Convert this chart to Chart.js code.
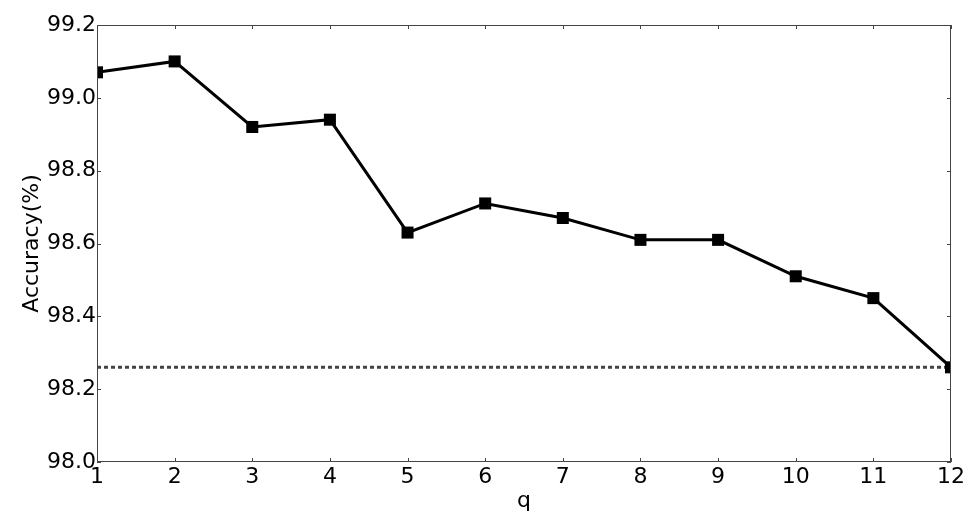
<!DOCTYPE html>
<html>
<head>
<meta charset="utf-8">
<script src="https://cdn.jsdelivr.net/npm/chart.js@4/dist/chart.umd.min.js"></script>
<style>
  html, body { margin: 0; padding: 0; background: #fff; }
  #wrap { width: 970px; height: 514px; }
</style>
</head>
<body>
<div id="wrap"><canvas id="accChart" width="970" height="514"></canvas></div>
<script>
// values
const qValues = [1, 2, 3, 4, 5, 6, 7, 8, 9, 10, 11, 12];
const accuracy = [99.07, 99.10, 98.92, 98.94, 98.63, 98.71, 98.67, 98.61, 98.61, 98.51, 98.45, 98.26];
const baseline = 98.26;
const yTicks = [98.0, 98.2, 98.4, 98.6, 98.8, 99.0, 99.2];

const FONT = "'DejaVu Sans', sans-serif";

// matplotlib-style frame with inward ticks on all sides
const framePlugin = {
  id: 'frame',
  afterDraw(chart) {
    const { ctx, chartArea: a, scales } = chart;
    ctx.save();
    ctx.strokeStyle = '#444';
    ctx.lineWidth = 1;
    ctx.strokeRect(a.left + 0.5, a.top + 0.5, a.right - a.left - 1, a.bottom - a.top - 1);
    const len = 4;
    ctx.beginPath();
    qValues.forEach(v => {
      const x = Math.round(scales.x.getPixelForValue(v)) + 0.5;
      ctx.moveTo(x, a.bottom); ctx.lineTo(x, a.bottom - len);
      ctx.moveTo(x, a.top); ctx.lineTo(x, a.top + len);
    });
    yTicks.forEach(v => {
      const y = Math.round(scales.y.getPixelForValue(v)) + 0.5;
      ctx.moveTo(a.left, y); ctx.lineTo(a.left + len, y);
      ctx.moveTo(a.right, y); ctx.lineTo(a.right - len, y);
    });
    ctx.stroke();
    ctx.restore();
  }
};

new Chart(document.getElementById('accChart'), {
  type: 'line',
  data: {
    datasets: [
      {
        data: qValues.map((q, i) => ({ x: q, y: accuracy[i] })),
        borderColor: '#000',
        backgroundColor: '#000',
        borderWidth: 3,
        pointStyle: 'rect',
        pointRadius: 8.5,
        pointBorderWidth: 0,
        tension: 0,
        clip: 0
      },
      {
        data: [{ x: qValues[0], y: baseline }, { x: qValues[qValues.length - 1], y: baseline }],
        borderColor: '#444',
        borderWidth: 3,
        borderDash: [4, 3],
        pointRadius: 0,
        clip: 0
      }
    ]
  },
  options: {
    responsive: false,
    animation: false,
    layout: { padding: { top: 25, right: 19, left: 0, bottom: 0 } },
    plugins: { legend: { display: false }, tooltip: { enabled: false } },
    scales: {
      x: {
        type: 'linear',
        min: 1,
        max: 12,
        afterBuildTicks: s => { s.ticks = qValues.map(v => ({ value: v })); },
        afterFit: s => { s.height = 52; },
        grid: { display: false, drawTicks: false },
        border: { display: false },
        ticks: { color: '#000', font: { family: FONT, size: 22 }, padding: 2, maxRotation: 0 },
        title: { display: true, text: 'q', color: '#000', font: { family: FONT, size: 22 }, padding: { top: 0, bottom: 0 } }
      },
      y: {
        min: 98.0,
        max: 99.2,
        afterBuildTicks: s => { s.ticks = yTicks.map(v => ({ value: v })); },
        afterFit: s => { s.width = 97; },
        grid: { display: false, drawTicks: false },
        border: { display: false },
        ticks: {
          color: '#000',
          font: { family: FONT, size: 22 },
          padding: 1,
          callback: v => v.toFixed(1)
        },
        title: { display: true, text: 'Accuracy(%)', color: '#000', font: { family: FONT, size: 22 }, padding: { top: 19, bottom: 0 } }
      }
    }
  },
  plugins: [framePlugin]
});
</script>
</body>
</html>
